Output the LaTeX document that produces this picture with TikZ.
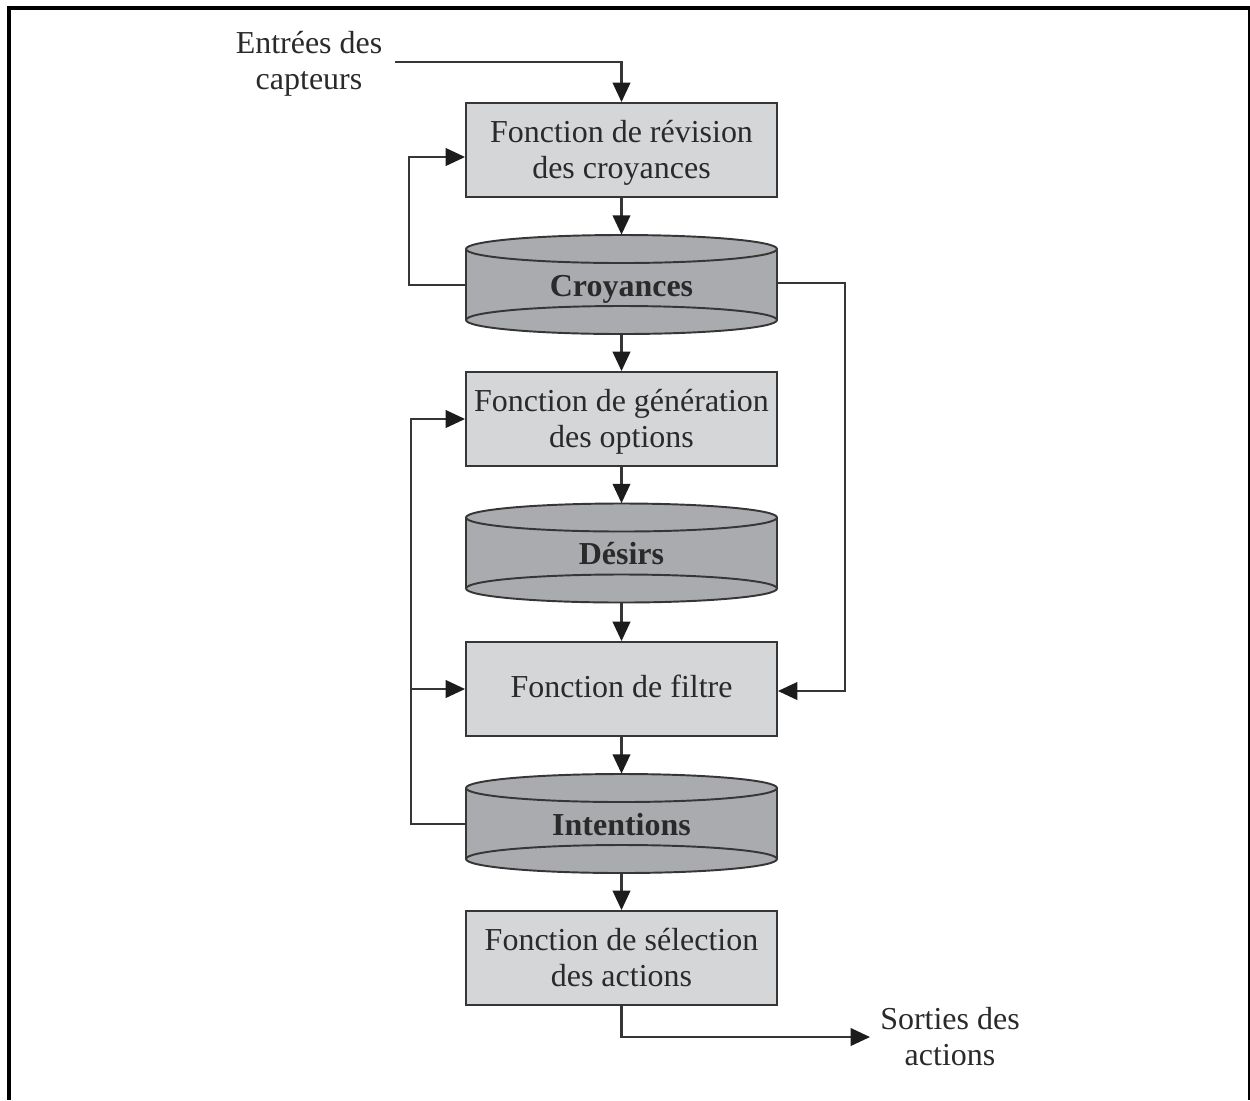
\documentclass[tikz,border=0pt]{standalone}
\usepackage{fontspec}
\setmainfont{Liberation Serif}
\usetikzlibrary{arrows.meta,positioning}

\definecolor{inkc}{HTML}{2A2A2A}
\definecolor{linec}{HTML}{363636}
\definecolor{tipc}{HTML}{1C1C1C}
\definecolor{boxfill}{HTML}{D5D6D8}
\definecolor{drumfill}{HTML}{AAABAE}

\tikzset{
  conn/.style={draw=linec, line width=1.15pt},
  arr/.style={conn, -{Triangle[length=11pt,width=10pt,fill=tipc,color=tipc]}},
  funcbox/.style={draw=linec, line width=1.1pt, fill=boxfill, minimum width=311*0.02cm,
    minimum height=94*0.02cm, align=center, inner sep=0pt, text=inkc,
    font=\fontsize{18.2pt}{20.5pt}\selectfont},
  drumlabel/.style={draw=none, minimum width=311*0.02cm, minimum height=99*0.02cm,
    inner sep=0pt, text=inkc, text height=17pt, text depth=3.9pt,
    font=\fontsize{18.2pt}{20.5pt}\selectfont\bfseries},
  freetext/.style={align=center, text=inkc, inner sep=0pt,
    font=\fontsize{18.2pt}{20.5pt}\selectfont},
}

% tall strut that lowers a two-line box text a little
\newcommand{\lowstrut}{\rule{0pt}{16pt}}

% storage drum: centre x, centre y, name, label
\newcommand{\storedrum}[4]{%
  \begin{scope}[line width=1.1pt, draw=linec]
    \fill[drumfill] (#1-155.5,#2-35.5) rectangle (#1+155.5,#2+35.5);
    \draw[fill=drumfill] (#1,#2+35.5) ellipse [x radius=155.5*0.02cm, y radius=14*0.02cm];
    \draw[fill=drumfill] (#1,#2-35.5) ellipse [x radius=155.5*0.02cm, y radius=14*0.02cm];
    \draw (#1-155.5,#2-35.5) -- (#1-155.5,#2+35.5);
    \draw (#1+155.5,#2-35.5) -- (#1+155.5,#2+35.5);
  \end{scope}
  \node[drumlabel] (#3) at (#1,#2) {#4};%
}

\begin{document}
\begin{tikzpicture}[x=0.02cm, y=-0.02cm]
  \useasboundingbox (0,0) rectangle (1250,1100);
  % outer frame, open at the bottom
  \draw[black, line width=2.3pt] (9,1100) -- (9,8) -- (1250,8) -- (1250,1100);

  % function boxes
  \node[funcbox] (rev) at (621.5,150) {\lowstrut Fonction de révision\\des croyances};
  \node[funcbox] (gen) at (621.5,419) {\lowstrut Fonction de génération\\des options};
  \node[funcbox, text depth=3.4pt] (fil) at (621.5,689) {Fonction de filtre};
  \node[funcbox] (sel) at (621.5,958) {Fonction de sélection\\des actions};

  % stores
  \storedrum{621.5}{284.5}{croy}{Croyances}
  \storedrum{621.5}{553}{des}{Désirs}
  \storedrum{621.5}{823.5}{int}{Intentions}

  % input and output labels
  \node[freetext] (inp) at (309,64) {Entrées des\\capteurs};
  \node[freetext] (out) at (950,1037) {Sorties des\\actions};
  \coordinate (inpend) at (395,62);
  \coordinate (outend) at (870,1037);

  % main flow
  \draw[arr] (inpend) -| (rev.north);
  \draw[arr] (rev) -- (croy.north);
  \draw[arr] (croy) -- (gen.north);
  \draw[arr] (gen) -- (des.north);
  \draw[arr] (des) -- (fil.north);
  \draw[arr] (fil) -- (int.north);
  \draw[arr] (int) -- (sel.north);
  \draw[arr] (sel.south) |- (outend);

  % feedback loops
  \coordinate (lA) at (409,157);
  \coordinate (lB) at (411,689);
  \coordinate (rA) at (845,283);
  \draw[arr] (croy.west) -| (lA) -- ([yshift=-7*0.02cm]rev.west);
  \draw[arr] (croy.east |- rA) -- (rA) |- ([yshift=-2*0.02cm]fil.east);
  \draw[arr] (int.west) -| (lB) |- (gen.west);
  \draw[arr] (lB) -- (fil.west);
\end{tikzpicture}
\end{document}
